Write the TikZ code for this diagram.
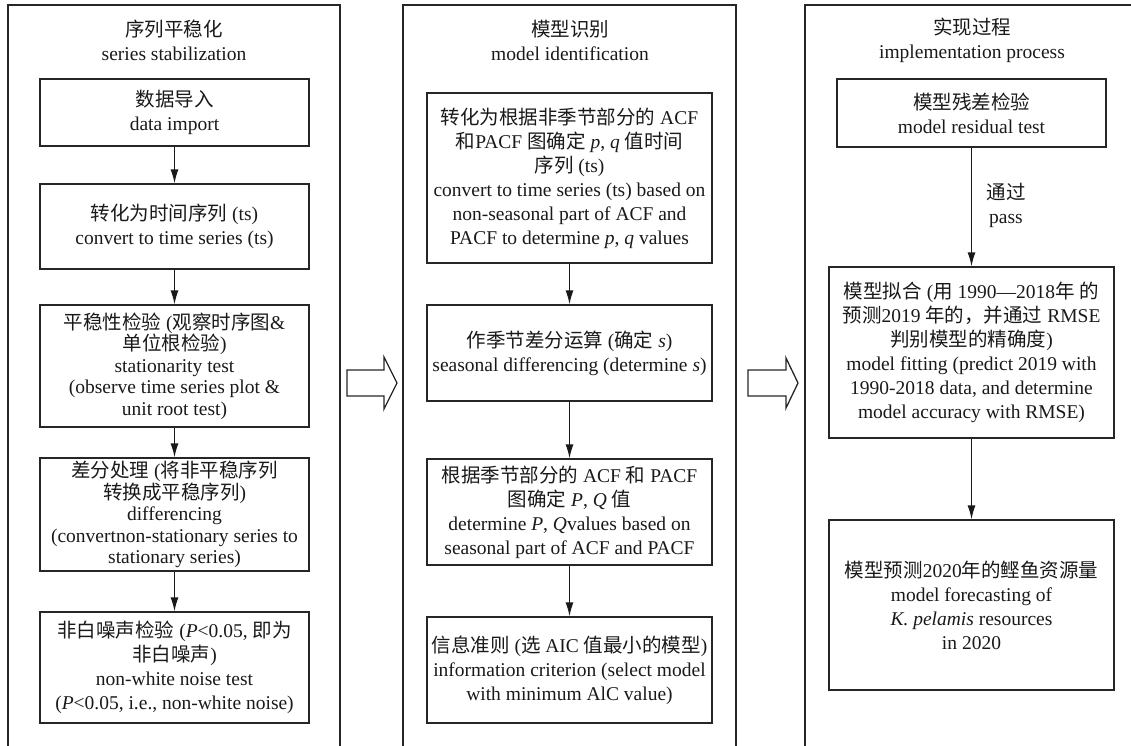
\documentclass[tikz,border=0pt]{standalone}
\usepackage{fontspec}
\setmainfont{Liberation Serif}
\newfontfamily\zhfont{Noto Sans CJK SC}
\newcommand{\zh}[1]{{\zhfont #1}}
\usetikzlibrary{arrows.meta}

\begin{document}
\begin{tikzpicture}[x=1pt,y=-1pt,>={Latex[length=14pt,width=8pt]},
    every node/.style={font=\fontsize{19.5}{24}\selectfont,align=center,text=black!90},
    box/.style={draw=black!85,line width=1.3pt,inner sep=0pt},
    tight/.style={font=\fontsize{19.5}{21.5}\selectfont},
    link/.style={->,line width=1.3pt,black!90}]
    \useasboundingbox (0,0) rectangle (1131,745);

    \begin{scope}
        \clip (0,0) rectangle (1131,745);
        \draw[line width=1.3pt,black!85] (8,5) rectangle (340,760);
        \draw[line width=1.3pt,black!85] (403,5) rectangle (736,760);
        \draw[line width=1.3pt,black!85] (805,5) rectangle (1150,760);
    \end{scope}

    \node (t1) at (174,40) {\zh{序列平稳化}\\series stabilization};
    \node (b1) [box,minimum width=269pt,minimum height=67pt] at (174.5,112.5)
        {\zh{数据导入}\\data import};
    \node (b2) [box,minimum width=269pt,minimum height=85pt] at (174.5,226.5)
        {\zh{转化为时间序列} (ts)\\convert to time series (ts)};
    \node (b3) [box,tight,minimum width=269pt,minimum height=122pt] at (174.5,366)
        {\zh{平稳性检验} (\zh{观察时序图}\&\\\zh{单位根检验})\\stationarity test\\(observe time series plot \&\\unit root test)};
    \node (b4) [box,tight,minimum width=269pt,minimum height=113pt] at (174.5,514.5)
        {\zh{差分处理} (\zh{将非平稳序列}\\\zh{转换成平稳序列})\\differencing\\(convertnon-stationary series to\\stationary series)};
    \node (b5) [box,minimum width=269pt,minimum height=111pt] at (174.5,667.5)
        {\zh{非白噪声检验} (\textit{P}<0.05, \zh{即为}\\\zh{非白噪声})\\non-white noise test\\(\textit{P}<0.05, i.e., non-white noise)};
    \draw[link] (b1) -- (b2);
    \draw[link] (b2) -- (b3);
    \draw[link] (b3) -- (b4);
    \draw[link] (b4) -- (b5);

    \node (t2) at (570,40) {\zh{模型识别}\\model identification};
    \node (m1) [box,minimum width=285pt,minimum height=170pt] at (569.5,178)
        {\zh{转化为根据非季节部分的} ACF\\\zh{和}PACF \zh{图确定} \textit{p}, \textit{q} \zh{值时间}\\\zh{序列} (ts)\\convert to time series (ts) based on\\non-seasonal part of ACF and\\PACF to determine \textit{p}, \textit{q} values};
    \node (m2) [box,minimum width=285pt,minimum height=96pt] at (569.5,353)
        {\zh{作季节差分运算} (\zh{确定} \textit{s})\\seasonal differencing (determine \textit{s})};
    \node (m3) [box,minimum width=285pt,minimum height=106pt] at (569.5,512)
        {\zh{根据季节部分的} ACF \zh{和} PACF\\\zh{图确定} \textit{P}, \textit{Q} \zh{值}\\determine \textit{P}, \textit{Q}values based on\\seasonal part of ACF and PACF};
    \node (m4) [box,minimum width=285pt,minimum height=106pt] at (569.5,670)
        {\zh{信息准则} (\zh{选} AIC \zh{值最小的模型})\\information criterion (select model\\with minimum AlC value)};
    \draw[link] (m1) -- (m2);
    \draw[link] (m2) -- (m3);
    \draw[link] (m3) -- (m4);

    \node (t3) at (972,40) {\zh{实现过程}\\implementation process};
    \node (r1) [box,minimum width=269pt,minimum height=68pt] at (971.5,113)
        {\zh{模型残差检验}\\model residual test};
    \node (r2) [box,minimum width=285pt,minimum height=171pt] at (971.5,352.5)
        {\zh{模型拟合} (\zh{用} 1990—2018\zh{年} \zh{的}\\\zh{预测}2019 \zh{年的，并通过} RMSE\\\zh{判别模型的精确度})\\model fitting (predict 2019 with\\1990-2018 data, and determine\\model accuracy with RMSE)};
    \node (r3) [box,minimum width=285pt,minimum height=170pt] at (971.5,605)
        {\zh{模型预测}2020\zh{年的鲣鱼资源量}\\model forecasting of\\\textit{K. pelamis} resources\\in 2020};
    \node (pass) at (1006,205) {\zh{通过}\\pass};
    \draw[link] (r1) -- (r2);
    \draw[link] (r2) -- (r3);

    \draw[line width=1.3pt,black!85] (347,370) -- (384,370) -- (384,357) -- (397,383)
        -- (384,409) -- (384,396) -- (347,396) -- cycle;
    \draw[line width=1.3pt,black!85] (748,370) -- (786,370) -- (786,358) -- (798,383)
        -- (786,408) -- (786,396) -- (748,396) -- cycle;
\end{tikzpicture}
\end{document}
